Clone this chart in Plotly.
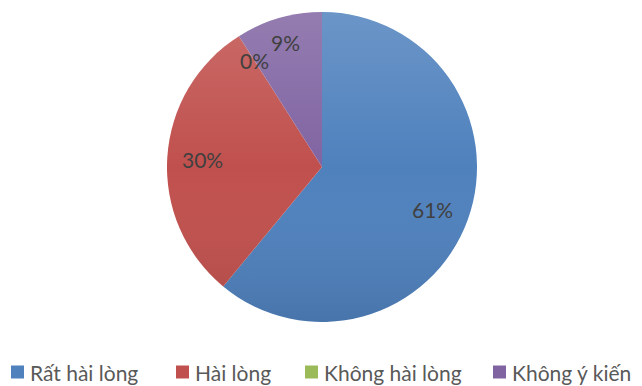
import base64
import plotly.graph_objects as go

# Survey satisfaction shares (percent)
labels = ["Rất hài lòng", "Hài lòng", "Không hài lòng", "Không ý kiến"]
values = [61, 30, 0, 9]
colors = ["#4F81BD", "#C0504D", "#9BBB59", "#8064A2"]

# Label anchor points (pixels) for each slice's percentage text
label_px = [(432, 209), (202, 159), (254, 60), (285, 43)]
# Legend layout: left edge of each swatch (pixels)
legend_x = [11, 176, 305, 493]
legend_y = 372

W, H = 642, 386
cx, cy, r = 322, 167, 155


def px(x):
    return x / W


def py(y):
    return 1 - y / H


fig = go.Figure(
    go.Pie(
        labels=labels,
        values=values,
        sort=False,
        direction="clockwise",
        rotation=0,
        marker=dict(colors=colors, line=dict(width=0)),
        textinfo="none",
        hoverinfo="label+percent",
        showlegend=False,
        domain=dict(x=[px(cx - r), px(cx + r)], y=[py(cy + r), py(cy - r)]),
    )
)

# soft vertical shading across the pie face
svg = f"""<svg xmlns='http://www.w3.org/2000/svg' width='{2*r}' height='{2*r}' viewBox='0 0 {2*r} {2*r}'>
<defs><linearGradient id='g' x1='0' y1='0' x2='0' y2='1'>
<stop offset='0' stop-color='#ffffff' stop-opacity='0.16'/>
<stop offset='0.5' stop-color='#ffffff' stop-opacity='0'/>
<stop offset='1' stop-color='#000000' stop-opacity='0.10'/>
</linearGradient></defs>
<circle cx='{r}' cy='{r}' r='{r}' fill='url(#g)'/>
</svg>"""
src = "data:image/svg+xml;base64," + base64.b64encode(svg.encode()).decode()
fig.add_layout_image(
    source=src, xref="paper", yref="paper",
    x=px(cx - r), y=py(cy - r), sizex=2 * r / W, sizey=2 * r / H,
    xanchor="left", yanchor="top", sizing="stretch", layer="above",
)

total = sum(values)
annotations = []
for v, (lx, ly) in zip(values, label_px):
    annotations.append(dict(
        x=px(lx), y=py(ly), xref="paper", yref="paper",
        text=f"{round(100 * v / total)}%", showarrow=False,
        xanchor="center", yanchor="middle",
        font=dict(family="Lato, sans-serif", size=21, color="#404040"),
    ))

shapes = []
sw = 13
for lab, col, lx in zip(labels, colors, legend_x):
    shapes.append(dict(
        type="rect", xref="paper", yref="paper",
        x0=px(lx), x1=px(lx + sw), y0=py(legend_y + sw / 2), y1=py(legend_y - sw / 2),
        fillcolor=col, line=dict(width=0),
    ))
    annotations.append(dict(
        x=px(lx + sw + 4), y=py(legend_y), xref="paper", yref="paper",
        text=lab, showarrow=False, xanchor="left", yanchor="middle",
        font=dict(family="Lato, sans-serif", size=21, color="#595959"),
    ))

fig.update_layout(
    width=W, height=H,
    margin=dict(l=0, r=0, t=0, b=0),
    paper_bgcolor="white", plot_bgcolor="white",
    annotations=annotations, shapes=shapes,
)

fig.write_html("out.html")
